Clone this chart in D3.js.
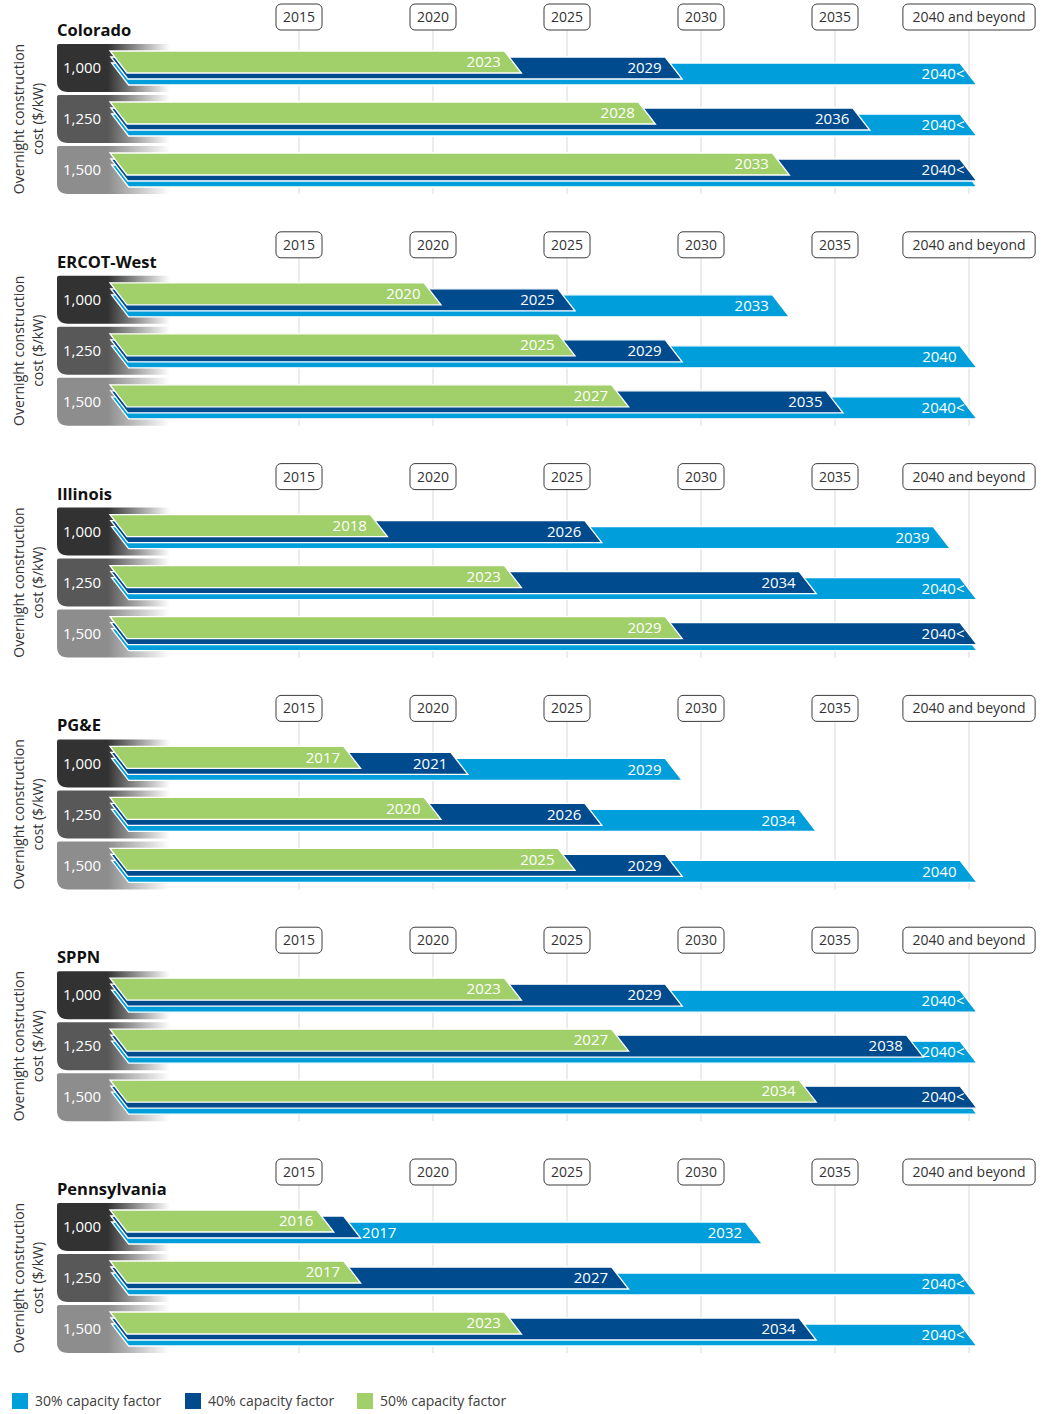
<!DOCTYPE html>
<html>
<head>
<meta charset="utf-8">
<script src="https://cdn.jsdelivr.net/npm/d3@7"></script>
<style>
  html, body { margin: 0; padding: 0; background: #fff; }
  svg { display: block; font-family: "Open Sans", "Noto Sans", sans-serif; }
</style>
</head>
<body>
<svg id="chart" width="1042" height="1414"></svg>
<script>
// Markets, cost cases and capacity-factor series
const regions = ["Colorado", "ERCOT-West", "Illinois", "PG&E", "SPPN", "Pennsylvania"];
const costs = ["1,000", "1,250", "1,500"];
const factors = ["30% capacity factor", "40% capacity factor", "50% capacity factor"];
const factorColors = ["#009fdb", "#004b8d", "#a1cf69"];
const costColors = ["#323232", "#585858", "#8d8d8d"];

// Year axis
const tickYears = [2015, 2020, 2025, 2030, 2035, 2040];
const tickLabels = ["2015", "2020", "2025", "2030", "2035", "2040 and beyond"];

// Year reached per region (rows: 1,000 / 1,250 / 1,500 $/kW)
const cf50 = [
  [2023, 2028, 2033],
  [2020, 2025, 2027],
  [2018, 2023, 2029],
  [2017, 2020, 2025],
  [2023, 2027, 2034],
  [2016, 2017, 2023]
];
const cf40 = [
  [2029, 2036, 2040],
  [2025, 2029, 2035],
  [2026, 2034, 2040],
  [2021, 2026, 2029],
  [2029, 2038, 2040],
  [2017, 2027, 2034]
];
const cf30 = [
  [2040, 2040, 2040],
  [2033, 2040, 2040],
  [2039, 2040, 2040],
  [2029, 2034, 2040],
  [2040, 2040, 2040],
  [2032, 2040, 2040]
];

// Printed labels ("2040<" = 2040 and beyond, "" = hidden under the bar above)
const cf50Labels = [
  ["2023", "2028", "2033"],
  ["2020", "2025", "2027"],
  ["2018", "2023", "2029"],
  ["2017", "2020", "2025"],
  ["2023", "2027", "2034"],
  ["2016", "2017", "2023"]
];
const cf40Labels = [
  ["2029", "2036", "2040<"],
  ["2025", "2029", "2035"],
  ["2026", "2034", "2040<"],
  ["2021", "2026", "2029"],
  ["2029", "2038", "2040<"],
  ["2017", "2027", "2034"]
];
const cf30Labels = [
  ["2040<", "2040<", ""],
  ["2033", "2040", "2040<"],
  ["2039", "2040<", ""],
  ["2029", "2034", "2040"],
  ["2040<", "2040<", ""],
  ["2032", "2040<", "2040<"]
];

const series = [
  { values: cf30, labels: cf30Labels },
  { values: cf40, labels: cf40Labels },
  { values: cf50, labels: cf50Labels }
];

// ---- layout
const svg = d3.select("#chart");
const x = d3.scaleLinear().domain([2015, 2040]).range([298.5, 968.5]);
const panelPitch = 231.8;
const rowPitch = 51;
const boxH = 48;
const barH = 22;
const slant = 17;
const barLeft = 110;

const defs = svg.append("defs");
costColors.forEach((c, i) => {
  const g = defs.append("linearGradient")
    .attr("id", "cost" + i)
    .attr("gradientUnits", "userSpaceOnUse")
    .attr("x1", 57).attr("x2", 170).attr("y1", 0).attr("y2", 0);
  g.append("stop").attr("offset", 0).attr("stop-color", c);
  g.append("stop").attr("offset", 0.45).attr("stop-color", c);
  g.append("stop").attr("offset", 1).attr("stop-color", c).attr("stop-opacity", 0);
});

function labelBox(x0, y0, w, h, rTop, rBot) {
  return `M${x0 + rTop},${y0} H${x0 + w} V${y0 + h} H${x0 + rBot} ` +
    `Q${x0},${y0 + h} ${x0},${y0 + h - rBot} V${y0 + rTop} Q${x0},${y0} ${x0 + rTop},${y0} Z`;
}

function barPath(xm, y0, x0) {
  return [
    [x0, y0],
    [xm - slant / 2, y0],
    [xm + slant / 2, y0 + barH],
    [x0 + slant, y0 + barH]
  ].map(p => p.join(",")).join(" ");
}

regions.forEach((region, i) => {
  const T = i * panelPitch;
  const rowsTop = 44 + T;
  const rowsBottom = rowsTop + 2 * rowPitch + boxH;
  const tickCY = Math.max(17, rowsTop - 31);
  const panel = svg.append("g").attr("class", "panel");

  // year axis with boxed labels and gridlines
  const axis = d3.axisTop(x)
    .tickValues(tickYears)
    .tickFormat((d, k) => tickLabels[k])
    .tickSizeOuter(0)
    .tickSizeInner(rowsBottom - (tickCY + 13));
  const ag = panel.append("g")
    .attr("transform", `translate(0,${rowsBottom})`)
    .call(axis);
  ag.select(".domain").remove();
  ag.selectAll(".tick line").attr("stroke", "#d9d9d9").attr("stroke-width", 1);
  ag.selectAll(".tick text")
    .attr("y", tickCY - rowsBottom)
    .attr("dy", "0.35em")
    .attr("fill", "#333")
    .style("font-size", "14px")
    .style("font-family", '"Open Sans", sans-serif');
  ag.selectAll(".tick").each(function () {
    const t = d3.select(this);
    const len = t.select("text").node().getComputedTextLength();
    const w = len > 60 ? len + 19 : len + 14;
    t.insert("rect", "text")
      .attr("x", -w / 2)
      .attr("y", tickCY - rowsBottom - 13)
      .attr("width", w)
      .attr("height", 26)
      .attr("rx", 5)
      .attr("fill", "#fff")
      .attr("stroke", "#3c3c3c")
      .attr("stroke-width", 1);
  });

  // region title
  panel.append("text")
    .attr("x", 57).attr("y", 36 + T)
    .attr("fill", "#111")
    .style("font-size", "16.5px")
    .style("font-weight", 700)
    .text(region);

  // y axis title
  const cy = (rowsTop + rowsBottom) / 2;
  const yt = panel.append("text")
    .attr("transform", `translate(0,${cy}) rotate(-90)`)
    .attr("text-anchor", "middle")
    .attr("fill", "#333")
    .style("font-size", "14px");
  yt.append("tspan").attr("x", 0).attr("y", 24).text("Overnight construction");
  yt.append("tspan").attr("x", 0).attr("y", 43).text("cost ($/kW)");

  costs.forEach((cost, r) => {
    const boxTop = rowsTop + r * rowPitch;

    panel.append("path")
      .attr("d", labelBox(57, boxTop, 113, boxH, 2, 11))
      .attr("fill", `url(#cost${r})`);
    panel.append("text")
      .attr("x", 63).attr("y", boxTop + boxH / 2)
      .attr("dy", "0.35em")
      .attr("fill", "#fff")
      .style("font-size", "15px")
      .text(cost);

    // stacked bars: 30% at the back, 50% in front
    series.forEach((s, l) => {
      const v = s.values[i][r];
      const y0 = boxTop + 19 - 6 * l;
      const x0 = barLeft + (2 - l) * 0.8;
      const xm = x(v);
      panel.append("polygon")
        .attr("points", barPath(xm, y0, x0))
        .attr("fill", factorColors[l])
        .attr("stroke", "#fff")
        .attr("stroke-width", 1.3)
        .attr("stroke-linejoin", "miter");
    });

    series.forEach((s, l) => {
      const label = s.labels[i][r];
      if (!label) return;
      const v = s.values[i][r];
      const y0 = boxTop + 19 - 6 * l;
      const xm = x(v);
      const above = l < 2 ? series[l + 1].values[i][r] : null;
      const narrow = above !== null && (xm - x(above)) < 40;
      const t = panel.append("text")
        .attr("fill", "#fff")
        .attr("dy", "0.35em")
        .style("font-size", "15px")
        .text(label);
      if (narrow) {
        t.attr("x", xm + 10).attr("y", y0 + 6 + barH / 2).attr("text-anchor", "start");
      } else {
        const shift = label.endsWith("<") ? 8 : 0;
        t.attr("x", xm - 12 + shift).attr("y", y0 + barH / 2).attr("text-anchor", "end");
      }
    });
  });
});

// legend
const legendX = [12, 185, 357];
const legend = svg.append("g").attr("class", "legend");
factors.forEach((f, k) => {
  legend.append("rect")
    .attr("x", legendX[k]).attr("y", 1393)
    .attr("width", 16).attr("height", 16)
    .attr("fill", factorColors[k]);
  legend.append("text")
    .attr("x", legendX[k] + 23).attr("y", 1401)
    .attr("dy", "0.35em")
    .attr("fill", "#404040")
    .style("font-size", "14px")
    .text(f);
});
</script>
</body>
</html>
